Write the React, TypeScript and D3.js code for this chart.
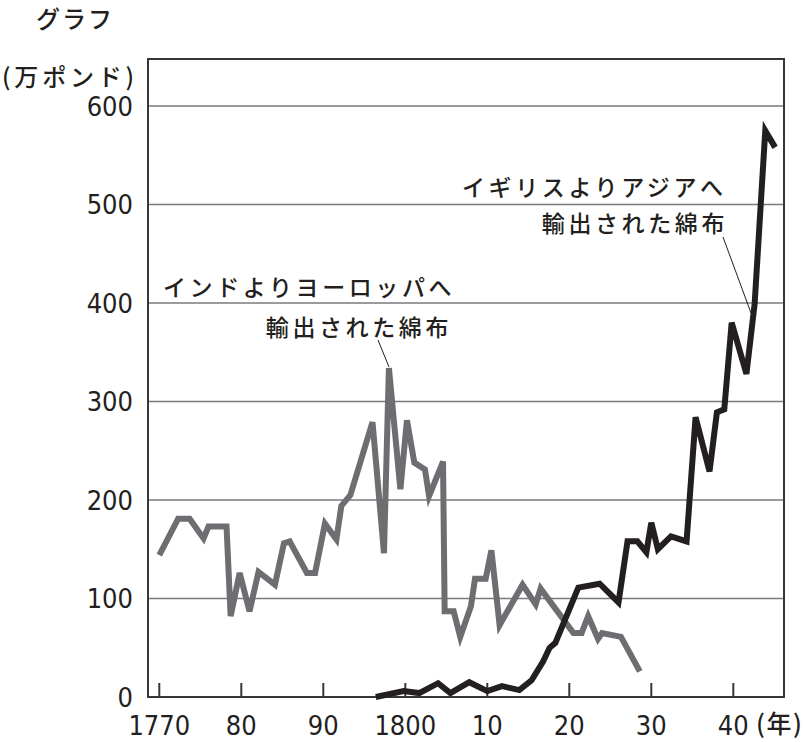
import * as d3 from 'd3';
import React from 'react';

// インドよりヨーロッパへ輸出された綿布 (万ポンド)
const indiaYears = [
  1770, 1772.3, 1773.7, 1775.4, 1776, 1778.2, 1778.7, 1779.8, 1781, 1782.1, 1784.1, 1785.2,
  1785.9, 1788, 1789, 1790.2, 1791.6, 1792.2, 1793.3, 1796, 1797.4, 1798, 1799.4, 1800.2,
  1801.1, 1802.4, 1802.9, 1804.6, 1804.8, 1805.9, 1806.7, 1808, 1808.5, 1809.8, 1810.5,
  1811.5, 1814.3, 1815.9, 1816.5, 1820.5, 1821.5, 1822.3, 1823.5, 1824, 1826.3, 1828.6,
];
const indiaValues = [
  144, 181, 181, 161, 173, 173, 82, 126, 87, 127, 114, 156, 158, 126, 126, 176, 160, 194, 205,
  279, 146, 334, 211, 281, 238, 231, 204, 239, 87, 87, 61, 92, 120, 120, 149, 73, 114, 94, 110,
  65, 65, 82, 59, 65, 61, 26,
];

// イギリスよりアジアへ輸出された綿布 (万ポンド)
const britainYears = [
  1796.4, 1799.8, 1801.7, 1804, 1805.5, 1807.8, 1810, 1811.8, 1813.9, 1815.4, 1816.8, 1817.6,
  1818.3, 1821.1, 1823.7, 1826, 1827.1, 1828.3, 1829.4, 1830, 1830.8, 1832.4, 1834.3, 1835.4,
  1837.1, 1838, 1838.9, 1839.8, 1841.6, 1842.6, 1843.9, 1845.1,
];
const britainValues = [
  0, 6, 4, 14, 4, 15, 6, 11, 7, 17, 36, 50, 55, 111, 115, 96, 158, 158, 147, 177, 150, 163, 158,
  284, 229, 289, 292, 380, 328, 399, 575, 558,
];

const yTicks = [0, 100, 200, 300, 400, 500, 600];
const xTicks = [1770, 1780, 1790, 1800, 1810, 1820, 1830, 1840];
const xTickLabels = ['1770', '80', '90', '1800', '10', '20', '30', '40'];

const W = 805;
const H = 742;
const frame = { left: 148, right: 784, top: 59, bottom: 697 };

const x = d3.scaleLinear().domain([1770, 1840]).range([159.3, 733.3]);
const y = d3.scaleLinear().domain([0, 600]).range([697, 106]);

const numFont = "'Liberation Sans Narrow', 'DejaVu Sans Condensed', 'Roboto', sans-serif";
const jpFont = "'Noto Sans CJK JP', 'Noto Sans', sans-serif";
const ink = '#231f20';

export default function App() {
  const path = (years: number[], values: number[]) =>
    d3
      .line<number>()
      .x((_, i) => x(years[i]))
      .y((_, i) => y(values[i]))(years) || '';

  return (
    <svg
      width={W}
      height={H}
      style={{ position: 'absolute', left: 0, top: 0, background: '#fff' }}
    >
      {/* gridlines */}
      {yTicks
        .filter(t => t > 0)
        .map(t => (
          <line
            key={t}
            x1={frame.left}
            x2={frame.right}
            y1={y(t)}
            y2={y(t)}
            stroke="#7a7a7c"
            strokeWidth={1.6}
          />
        ))}

      {/* frame */}
      <rect
        x={frame.left}
        y={frame.top}
        width={frame.right - frame.left}
        height={frame.bottom - frame.top}
        fill="none"
        stroke="#3a3637"
        strokeWidth={2}
      />

      {/* x ticks */}
      {xTicks.map(t => (
        <line
          key={t}
          x1={x(t)}
          x2={x(t)}
          y1={frame.bottom}
          y2={frame.bottom - 14}
          stroke="#3a3637"
          strokeWidth={2}
        />
      ))}

      {/* series */}
      <path
        d={path(indiaYears, indiaValues)}
        fill="none"
        stroke="#6d6e71"
        strokeWidth={6}
        strokeLinejoin="miter"
      />
      <path
        d={path(britainYears, britainValues)}
        fill="none"
        stroke={ink}
        strokeWidth={6}
        strokeLinejoin="miter"
      />

      {/* y labels */}
      {yTicks.map(t => (
        <text
          key={t}
          x={133}
          y={y(t)}
          dy="0.36em"
          textAnchor="end"
          fontFamily={numFont}
          fontSize={27}
          fill={ink}
        >
          {t}
        </text>
      ))}

      {/* x labels */}
      {xTicks.map((t, i) => (
        <text
          key={t}
          x={x(t)}
          y={735}
          textAnchor="middle"
          fontFamily={numFont}
          fontSize={27}
          fill={ink}
        >
          {xTickLabels[i]}
        </text>
      ))}
      <text x={756} y={733} fontFamily={jpFont} fontWeight={500} fontSize={25} letterSpacing={1.5} fill={ink}>
        (年)
      </text>

      {/* titles */}
      <text x={36} y={28} fontFamily={jpFont} fontWeight={500} fontSize={24} letterSpacing={2} fill={ink}>
        グラフ
      </text>
      <text x={2} y={86} fontFamily={jpFont} fontWeight={500} fontSize={24} letterSpacing={3.8} fill={ink}>
        (万ポンド)
      </text>

      {/* annotation: India */}
      <text x={163} y={296} fontFamily={jpFont} fontWeight={500} fontSize={23} letterSpacing={3.6} fill={ink}>
        インドよりヨーロッパへ
      </text>
      <text
        x={452}
        y={336}
        textAnchor="end"
        fontFamily={jpFont}
        fontWeight={500}
        fontSize={23}
        letterSpacing={3.6}
        fill={ink}
      >
        輸出された綿布
      </text>
      <line x1={378} y1={340} x2={389} y2={367} stroke={ink} strokeWidth={1} />

      {/* annotation: Britain */}
      <text x={462} y={196} fontFamily={jpFont} fontWeight={500} fontSize={23} letterSpacing={3.6} fill={ink}>
        イギリスよりアジアへ
      </text>
      <text
        x={728}
        y={232}
        textAnchor="end"
        fontFamily={jpFont}
        fontWeight={500}
        fontSize={23}
        letterSpacing={3.6}
        fill={ink}
      >
        輸出された綿布
      </text>
      <line x1={723} y1={237} x2={751} y2={313} stroke={ink} strokeWidth={1} />
    </svg>
  );
}
